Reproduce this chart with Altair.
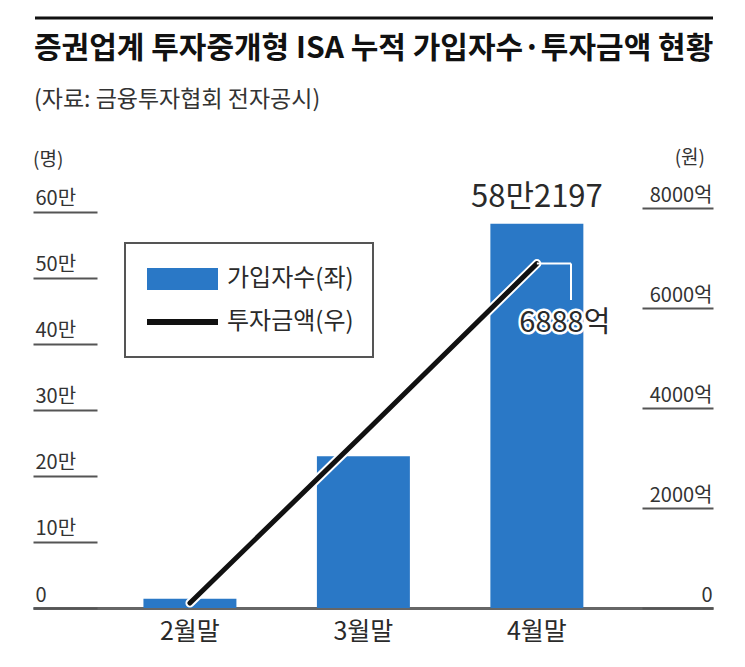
import altair as alt
import pandas as pd

# ---- data ----
categories = ["2월말", "3월말", "4월말"]
members = [14000, 230000, 582197]          # 가입자수 (명)
amounts = [100, 3480, 6888]                # 투자금액 (억원)
left_ticks = [0, 100000, 200000, 300000, 400000, 500000, 600000]
right_ticks = [0, 2000, 4000, 6000, 8000]
title_text = "증권업계 투자중개형 ISA 누적 가입자수·투자금액 현황"
source_text = "(자료: 금융투자협회 전자공시)"
left_unit = "(명)"
right_unit = "(원)"
legend_labels = ["가입자수(좌)", "투자금액(우)"]
bar_label = "58만2197"
line_label = "6888억"

df = pd.DataFrame({"cat": categories, "members": members, "amount": amounts})
one = pd.DataFrame({"k": [0]})

FONT = "Noto Sans CJK KR"
BLUE = "#2a78c6"
TXT = "#2a2a2a"

xenc = alt.X(
    "cat:N",
    sort=categories,
    scale=alt.Scale(paddingInner=0.464, paddingOuter=0.692, align=0.46),
    axis=alt.Axis(
        title=None, ticks=False, labelAngle=0, labelFontSize=25, labelFont=FONT,
        labelColor=TXT, labelPadding=11, domainColor="#666", domainWidth=3,
    ),
)

yleft = alt.Y(
    "members:Q",
    scale=alt.Scale(domain=[0, 606000], nice=False),
    axis=alt.Axis(
        orient="left", values=left_ticks, title=None, domain=False, grid=False,
        labelExpr="datum.value == 0 ? '0' : (datum.value/10000) + '만'",
        tickSize=64, offset=-64, tickColor="#555", tickWidth=2,
        labelAlign="left", labelBaseline="bottom", labelPadding=-2, labelOffset=-3,
        labelFontSize=20, labelFont=FONT, labelColor="#333",
    ),
)

yright = alt.Y(
    "amount:Q",
    scale=alt.Scale(domain=[0, 8000], nice=False),
    axis=alt.Axis(
        orient="right", values=right_ticks, title=None, domain=False, grid=False,
        labelExpr="datum.value == 0 ? '0' : datum.value + '억'",
        tickSize=71, offset=-71, tickColor="#555", tickWidth=2,
        labelAlign="right", labelBaseline="bottom", labelPadding=-1, labelOffset=-3,
        labelFontSize=20, labelFont=FONT, labelColor="#333",
    ),
)

base = alt.Chart(df)

bars = base.mark_bar(color=BLUE).encode(x=xenc, y=yleft)
bar_text = base.transform_filter(alt.datum.cat == categories[-1]).mark_text(
    font=FONT, fontSize=31, color=TXT, baseline="alphabetic", dy=-17
).encode(x=xenc, y=yleft, text=alt.value(bar_label))

# decorations (pixel layout)
top_rule = alt.Chart(one).mark_rule(color="#111", strokeWidth=3).encode(
    x=alt.value(2), x2=alt.value(680), y=alt.value(-190))
title = alt.Chart(one).mark_text(
    font=FONT, fontSize=30, fontWeight="bold", color="#111", align="left", baseline="middle"
).encode(x=alt.value(1), y=alt.value(-159), text=alt.value(title_text))
source = alt.Chart(one).mark_text(
    font=FONT, fontSize=23, color="#333", align="left", baseline="middle"
).encode(x=alt.value(1), y=alt.value(-108), text=alt.value(source_text))
unit_l = alt.Chart(one).mark_text(
    font=FONT, fontSize=19, color="#333", align="left", baseline="middle"
).encode(x=alt.value(0), y=alt.value(-48), text=alt.value(left_unit))
unit_r = alt.Chart(one).mark_text(
    font=FONT, fontSize=19, color="#333", align="right", baseline="middle"
).encode(x=alt.value(672), y=alt.value(-50), text=alt.value(right_unit))

legend_box = alt.Chart(one).mark_rect(fill="white", stroke="#555", strokeWidth=2).encode(
    x=alt.value(92), x2=alt.value(340), y=alt.value(35), y2=alt.value(149))
legend_sw1 = alt.Chart(one).mark_rect(color=BLUE).encode(
    x=alt.value(114), x2=alt.value(185), y=alt.value(60), y2=alt.value(82))
legend_sw2 = alt.Chart(one).mark_rule(color="#111", strokeWidth=6).encode(
    x=alt.value(114), x2=alt.value(185), y=alt.value(114))
legend_t1 = alt.Chart(one).mark_text(
    font=FONT, fontSize=24, color=TXT, align="left", baseline="middle"
).encode(x=alt.value(194), y=alt.value(71), text=alt.value(legend_labels[0]))
legend_t2 = alt.Chart(one).mark_text(
    font=FONT, fontSize=24, color=TXT, align="left", baseline="middle"
).encode(x=alt.value(194), y=alt.value(114), text=alt.value(legend_labels[1]))

left_layer = alt.layer(
    bars, bar_text, top_rule, title, source, unit_l, unit_r,
    legend_box, legend_sw1, legend_sw2, legend_t1, legend_t2,
)

halo = base.mark_line(color="white", strokeWidth=9, strokeCap="round").encode(x=xenc, y=yright)
line = base.mark_line(color="#111", strokeWidth=5, strokeCap="round").encode(x=xenc, y=yright)

last = base.transform_filter(alt.datum.cat == categories[-1])
call_h = last.mark_rule(color="white", strokeWidth=2).encode(x=xenc, x2=alt.value(538), y=yright)
call_v = last.mark_rule(color="white", strokeWidth=2).encode(x=alt.value(538), y=yright, y2=alt.value(92))
lbl_halo = last.mark_text(
    font=FONT, fontSize=29, color="white", stroke="white", strokeWidth=5,
    align="center", baseline="middle", dx=28, dy=59,
).encode(x=xenc, y=yright, text=alt.value(line_label))
lbl = last.mark_text(
    font=FONT, fontSize=29, color=TXT, align="center", baseline="middle", dx=28, dy=59,
).encode(x=xenc, y=yright, text=alt.value(line_label))

right_layer = alt.layer(halo, line, call_h, call_v, lbl_halo, lbl)

chart = alt.layer(left_layer, right_layer).resolve_scale(y="independent").properties(
    width=680, height=400,
    autosize=alt.AutoSizeParams(type="none"),
    padding={"left": 25, "top": 200, "right": 16, "bottom": 50},
    background="white",
).configure_view(stroke=None)

chart.save("out.html", embed_options={"renderer": "svg", "actions": False})
